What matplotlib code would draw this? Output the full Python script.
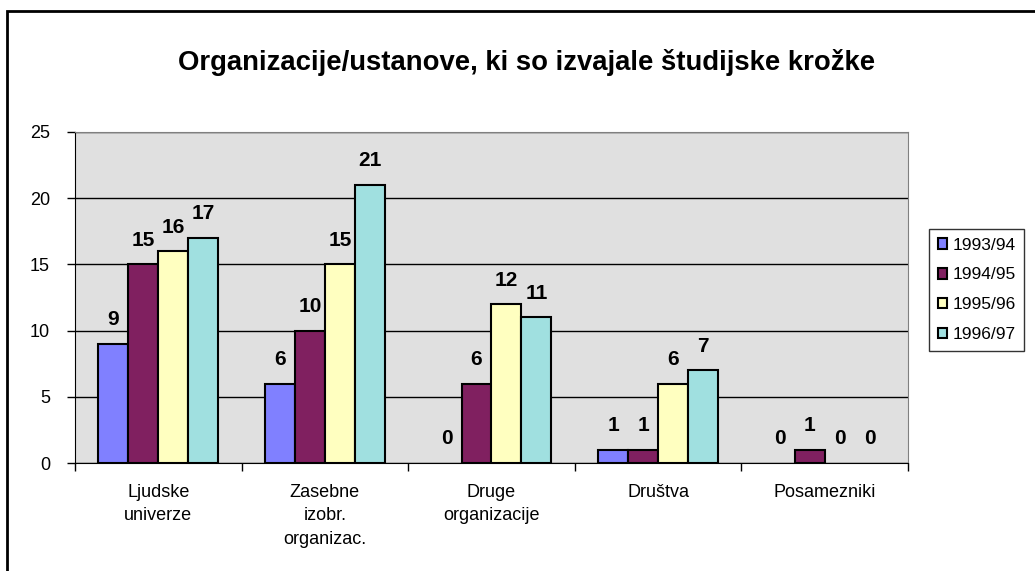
import matplotlib.pyplot as plt
import numpy as np
from matplotlib.patches import Rectangle

plt.rcParams['font.family'] = ['Liberation Sans', 'DejaVu Sans']

categories = ["Ljudske\nuniverze", "Zasebne\nizobr.\norganizac.", "Druge\norganizacije",
              "Društva", "Posamezniki"]
years = ["1993/94", "1994/95", "1995/96", "1996/97"]
v9394 = [9, 6, 0, 1, 0]
v9495 = [15, 10, 6, 1, 1]
v9596 = [16, 15, 12, 6, 0]
v9697 = [17, 21, 11, 7, 0]
colors = ["#8080FF", "#802060", "#FFFFC0", "#A0E0E0"]


def main():
    fig = plt.figure(figsize=(10.35, 5.71), dpi=100)
    ax = fig.add_axes([75 / 1035, 1 - 463 / 571, (908 - 75) / 1035, (463 - 132) / 571])

    # outer chart frame (cropped at right/bottom)
    fig.patches.append(Rectangle((7 / 1035, -0.1), 1.2, 1 - 11 / 571 + 0.1,
                                 transform=fig.transFigure, fill=False,
                                 edgecolor="black", linewidth=2))

    ax.set_facecolor("#E0E0E0")
    x = np.arange(len(categories))
    w = 0.18
    series = [v9394, v9495, v9596, v9697]
    for i, vals in enumerate(series):
        pos = x - 1.5 * w + i * w
        bars = ax.bar(pos, vals, width=w, color=colors[i], edgecolor="black",
                      linewidth=1.5, label=years[i], zorder=3)
        for b, v in zip(bars, vals):
            if v == 0:
                b.set_linewidth(0)
        for p, v in zip(pos, vals):
            ax.text(p, v + 1.1, str(v), ha="center", va="bottom",
                    fontsize=15, fontweight="bold", zorder=4)

    ax.set_xlim(-0.5, len(categories) - 0.5)
    ax.set_ylim(0, 25)
    ax.set_yticks(range(0, 26, 5))
    ax.yaxis.grid(True, color="black", linewidth=1, zorder=1)
    ax.set_axisbelow(True)
    ax.tick_params(axis="y", labelsize=13, length=6, width=1, direction="out", pad=12)
    ax.set_xticks(x)
    ax.set_xticklabels(categories, fontsize=13, va="top", linespacing=1.5)
    ax.tick_params(axis="x", length=0, pad=15)
    ax.set_xticks(np.arange(-0.5, len(categories), 1), minor=True)
    ax.tick_params(axis="x", which="minor", length=6, width=1, direction="out")

    for s in ["top", "right"]:
        ax.spines[s].set_color("#808080")
    ax.spines["left"].set_color("black")
    ax.spines["bottom"].set_color("black")

    fig.text(527 / 1035, 1 - 63 / 571, "Organizacije/ustanove, ki so izvajale študijske krožke",
             ha="center", va="center", fontsize=19.8, fontweight="bold")

    leg = ax.legend(loc="upper left", bbox_to_anchor=(929 / 1035, 1 - 229 / 571),
                    bbox_transform=fig.transFigure, fontsize=12.5, frameon=True,
                    fancybox=False, edgecolor="black", handlelength=0.55,
                    handleheight=0.55, handletextpad=0.3, borderpad=0.5,
                    labelspacing=0.85, borderaxespad=0)
    leg.get_frame().set_linewidth(1)

    fig.savefig("out.png", dpi=100)


if __name__ == "__main__":
    main()
